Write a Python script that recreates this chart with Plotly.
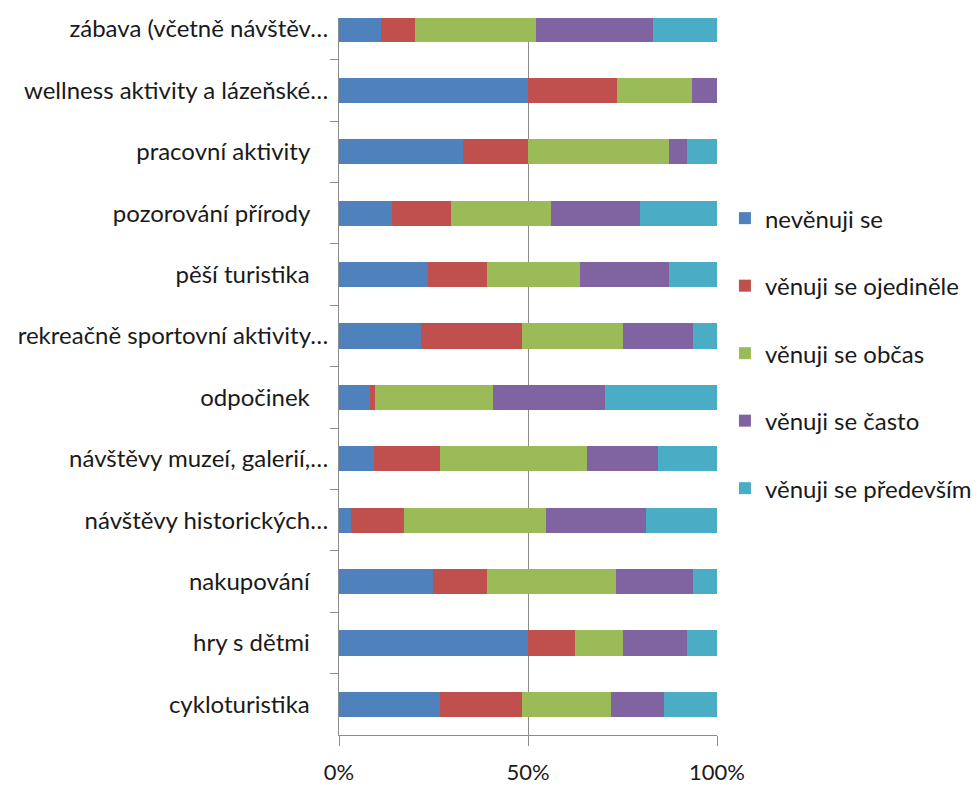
import plotly.graph_objects as go

NB = "\u00a0\u00a0\u00a0"

# categories, top to bottom as shown
categories = [
    "zábava (včetně návštěv…",
    "wellness aktivity a lázeňské…",
    "pracovní aktivity" + NB,
    "pozorování přírody" + NB,
    "pěší turistika" + NB,
    "rekreačně sportovní aktivity…",
    "odpočinek" + NB,
    "návštěvy muzeí, galerií,…",
    "návštěvy historických…",
    "nakupování" + NB,
    "hry s dětmi" + NB,
    "cykloturistika" + NB,
]

series_names = [
    "nevěnuji se",
    "věnuji se ojediněle",
    "věnuji se občas",
    "věnuji se často",
    "věnuji se především",
]

nevenuji = [11.0, 50.0, 32.7, 14.0, 23.5, 21.8, 8.2, 9.3, 3.2, 24.9, 49.9, 26.7]
ojedinele = [9.0, 23.5, 17.3, 15.6, 15.7, 26.5, 1.3, 17.4, 13.9, 14.3, 12.6, 21.7]
obcas = [32.0, 20.0, 37.3, 26.5, 24.6, 26.7, 31.2, 38.9, 37.7, 34.2, 12.5, 23.6]
casto = [31.0, 6.5, 4.8, 23.4, 23.5, 18.7, 29.7, 18.8, 26.3, 20.3, 17.1, 14.0]
predevsim = [17.0, 0.0, 7.9, 20.5, 12.7, 6.3, 29.6, 15.6, 18.9, 6.3, 7.9, 14.0]

series_values = [nevenuji, ojedinele, obcas, casto, predevsim]
colors = ["#4F81BD", "#C0504D", "#9BBB59", "#8064A2", "#4BACC6"]

x_tickvals = [0, 50, 100]
x_ticktext = ["0%", "50%", "100%"]

FONT = "Lato, 'Open Sans', sans-serif"

fig = go.Figure()
for name, vals, col in zip(series_names, series_values, colors):
    fig.add_trace(go.Bar(
        y=categories, x=vals, name=name, orientation="h",
        marker=dict(color=col, line=dict(width=0)),
        legendgroup=name,
    ))

fig.update_layout(
    width=972, height=779,
    margin=dict(l=331, r=263, t=10, b=52, autoexpand=False),
    barmode="stack",
    bargap=0.59,
    plot_bgcolor="white", paper_bgcolor="white",
    font=dict(family=FONT, size=24, color="#1a1a1a"),
    legend=dict(
        x=1.021, xanchor="left", y=0.532, yanchor="middle",
        traceorder="grouped", tracegroupgap=33.3,
        font=dict(family=FONT, size=24, color="#1a1a1a"),
        itemwidth=30,
    ),
    showlegend=True,
)

fig.update_xaxes(
    range=[0, 100], tickvals=x_tickvals, ticktext=x_ticktext,
    showgrid=True, gridcolor="#8c8c8c", gridwidth=1,
    showline=True, linecolor="#8c8c8c", linewidth=1,
    zeroline=False,
    ticks="outside", ticklen=10, tickcolor="#8c8c8c",
    ticklabelstandoff=8, automargin=False,
    tickfont=dict(family=FONT, size=22, color="#1a1a1a"),
)

fig.update_yaxes(
    type="category", categoryorder="array", categoryarray=categories,
    range=[11.5, -0.18],
    showline=True, linecolor="#8c8c8c", linewidth=1,
    showgrid=False, zeroline=False,
    ticks="outside", ticklen=8, tickcolor="#8c8c8c",
    tickson="boundaries", automargin=False,
    ticklabelstandoff=5,
    tickfont=dict(family=FONT, size=24, color="#1a1a1a"),
)

fig.write_html("out.html")
